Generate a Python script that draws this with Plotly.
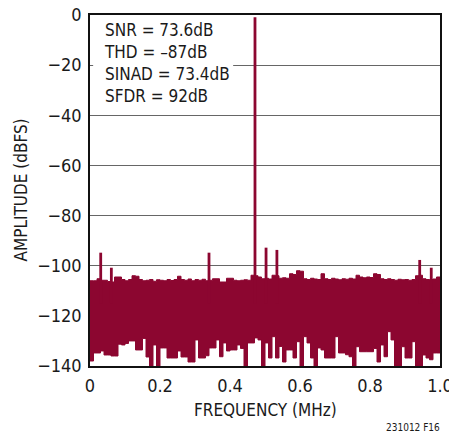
import numpy as np
import plotly.graph_objects as go

# ---- data ----
freq_mhz = np.round(np.arange(101) * 0.01, 2)

noise_top_db = [
    -106, -106, -105.2, -105.8, -105.8, -106.3, -106.5, -104.5, -104.5, -105.5,
    -106, -105.5, -104, -104.2, -105.5, -106, -105.8, -105.5, -106.2, -105.6,
    -105.8, -106, -105.5, -105.9, -105.5, -104.2, -105.5, -105.8, -105.3, -106,
    -105.5, -105.8, -105.4, -106, -105.8, -105.2, -105.2, -106.5, -106.5, -105,
    -105, -105.8, -106, -105.8, -105.6, -105.8, -103.8, -104, -104.5, -105.2,
    -105, -105.3, -103.8, -104, -105, -104.8, -105, -103.2, -103.5, -102,
    -102.2, -105.2, -105.5, -105, -105.3, -105.5, -103.2, -105.2, -105.5, -105,
    -105.3, -105.6, -105.2, -105.4, -105, -105.3, -103.8, -104.5, -104.8, -104.5,
    -104.7, -103.2, -103.5, -105.2, -105.5, -105.2, -105.5, -105.8, -105.4, -105.6,
    -105.5, -105.8, -105.5, -104, -103.8, -105.2, -105.5, -105.5, -105.3, -104.5,
    -104.5,
]

noise_bottom_db = [
    -138, -134.8, -134.8, -134, -135.6, -135.6, -136, -136, -131.3, -131.6,
    -131, -130, -130, -133.6, -133.6, -129, -136.4, -140, -131.6, -140,
    -132.8, -132.8, -136.8, -136.8, -136.8, -134, -136.4, -136.4, -138.4, -138.4,
    -129.6, -136.8, -136.8, -135.9, -132.8, -132.8, -129.6, -136.3, -130.8, -134,
    -133.6, -133.6, -131.6, -133, -140, -130.8, -130.8, -128.8, -129.6, -140,
    -130.8, -136.8, -128.3, -136.8, -132.2, -138.4, -133.6, -133.6, -136.8, -130.3,
    -140, -128.3, -130.8, -136.8, -140, -132.8, -133.6, -136.8, -136.8, -136.8,
    -128.3, -134.8, -134.8, -135.5, -136.3, -140, -132.3, -134.3, -134.3, -134.3,
    -134.3, -133, -138.4, -131.6, -136.3, -126.3, -129.6, -140, -140, -132.3,
    -136.8, -136.8, -130.3, -140, -140, -135.6, -136.8, -137.5, -134.8, -134.8,
    -133,
]

spike_freq_mhz = [0.0306, 0.061, 0.340, 0.4714, 0.503, 0.534, 0.942, 0.975]
spike_peak_db = [-94.8, -100.8, -94.8, -0.9, -92.8, -93.7, -97.7, -100.8]

stats_text = ["SNR = 73.6dB", "THD = \u201387dB", "SINAD = 73.4dB", "SFDR = 92dB"]
x_ticks = [0, 0.2, 0.4, 0.6, 0.8, 1.0]
x_tick_labels = ["0", "0.2", "0.4", "0.6", "0.8", "1.0"]
y_ticks = [0, -20, -40, -60, -80, -100, -120, -140]

COLOR = "#8C0630"
TXT = "#1a1a1a"
FONT = "DejaVu Sans Condensed, Liberation Sans Narrow, Roboto, sans-serif"

fig = go.Figure()

# noise floor band
fig.add_trace(go.Scatter(
    x=freq_mhz, y=noise_top_db, mode="lines", line=dict(color=COLOR, width=1, shape="hv"),
    hoverinfo="skip", showlegend=False))
fig.add_trace(go.Scatter(
    x=freq_mhz, y=noise_bottom_db, mode="lines", line=dict(color=COLOR, width=1, shape="hv"),
    fill="tonexty", fillcolor=COLOR, hoverinfo="skip", showlegend=False))

# spikes (fundamental, harmonics, spurs)
sx, sy = [], []
for f, p in zip(spike_freq_mhz, spike_peak_db):
    sx += [f, f, None]
    sy += [-115, p, None]
fig.add_trace(go.Scatter(x=sx, y=sy, mode="lines", line=dict(color=COLOR, width=2.8),
                         hoverinfo="skip", showlegend=False))

# white box behind the stats text
fig.add_shape(type="rect", xref="x", yref="y", x0=0.009, x1=0.409, y0=-39, y1=-0.3,
              fillcolor="white", line=dict(width=0), layer="between")
fig.add_annotation(xref="x", yref="y", x=0.034, y=-1.2, xanchor="left", yanchor="top",
                   text="<br>".join(stats_text), showarrow=False, align="left",
                   font=dict(family=FONT, size=17, color=TXT))

# axis titles and figure id
fig.add_annotation(xref="paper", yref="paper", x=0.5, y=0, yshift=-44, yanchor="middle",
                   text="FREQUENCY (MHz)", showarrow=False,
                   font=dict(family=FONT, size=17, color=TXT))
fig.add_annotation(xref="paper", yref="paper", x=0, xshift=-70, y=0.5, xanchor="center",
                   text="AMPLITUDE (dBFS)", textangle=-90, showarrow=False,
                   font=dict(family=FONT, size=17, color=TXT))
fig.add_annotation(xref="paper", yref="paper", x=1, xshift=2, xanchor="right", y=0, yshift=-61,
                   yanchor="middle", text="231012 F16", showarrow=False,
                   font=dict(family=FONT, size=10, color=TXT))

fig.update_xaxes(range=[0, 1], tickvals=x_ticks, ticktext=x_tick_labels, showgrid=False,
                 zeroline=False, showline=True, linecolor="#111", linewidth=1.5, mirror=True,
                 ticks="", ticklabelstandoff=3, ticklabeloverflow="allow", automargin=False,
                 tickfont=dict(family=FONT, size=18, color=TXT))
fig.update_yaxes(range=[-140, 0], tickvals=y_ticks, showgrid=True, gridcolor="#666",
                 gridwidth=1, zeroline=False, showline=True, linecolor="#111", linewidth=1.5,
                 mirror=True, ticks="", ticklabelstandoff=3, ticklabeloverflow="allow",
                 automargin=False, tickfont=dict(family=FONT, size=18, color=TXT))

fig.update_layout(width=449, height=434, margin=dict(l=90, r=9, t=15, b=68),
                  plot_bgcolor="white", paper_bgcolor="white", showlegend=False)

# remove the default 8px page margin so the figure fills the window exactly
fig.write_html("out.html", config={"displayModeBar": False},
               post_script="document.body.style.margin='0';")
